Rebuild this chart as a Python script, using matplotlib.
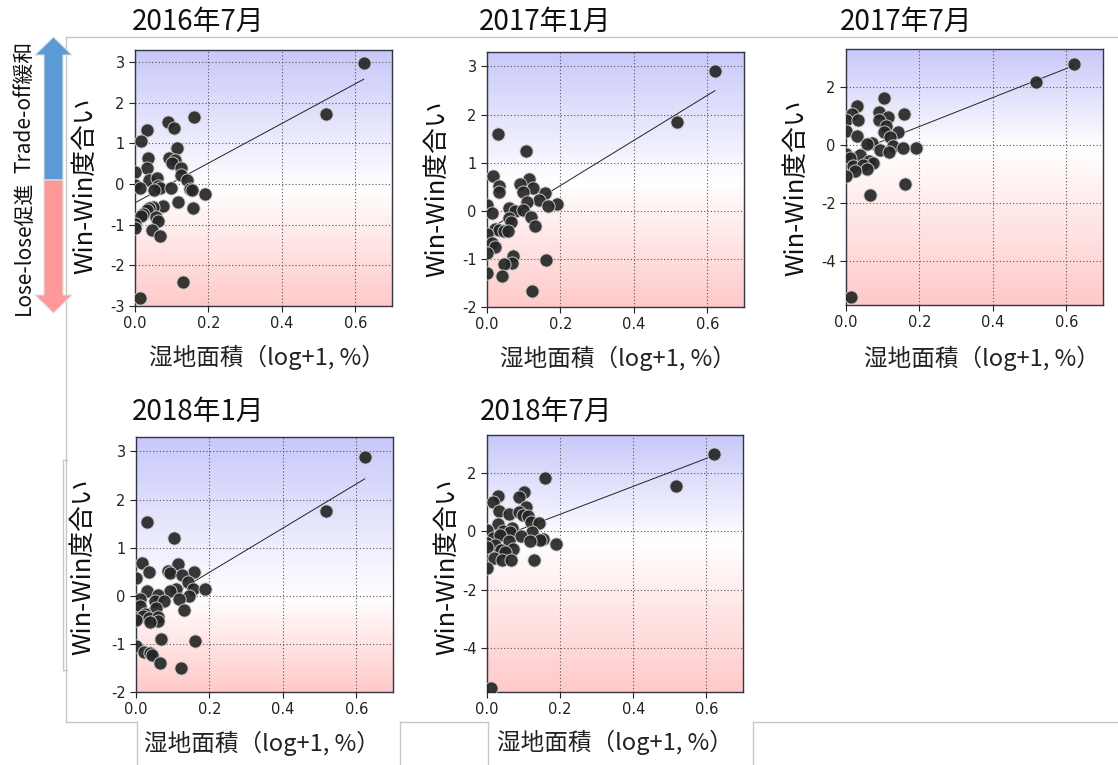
import matplotlib
matplotlib.use('Agg')
import matplotlib.pyplot as plt
import numpy as np
from matplotlib.colors import LinearSegmentedColormap
from matplotlib.patches import Polygon
from matplotlib.lines import Line2D

plt.rcParams['font.family'] = ['Noto Sans CJK JP', 'DejaVu Sans']
plt.rcParams['axes.unicode_minus'] = False

# ---------------- data ----------------
titles = ['2016年7月', '2017年1月', '2017年7月', '2018年1月', '2018年7月']
x_label = '湿地面積（log+1, %）'
y_label = 'Win-Win度合い'
arrow_top_label = 'Trade-off緩和'
arrow_bottom_label = 'Lose-lose促進'
x_ticks = [0.0, 0.2, 0.4, 0.6]

x_2016_07 = [0.162, 0.089, 0.106, 0.032, 0.017, 0.115, 0.035, 0.093, 0.108, 0.100, 0.033, 0.124, 0.0, 0.125,
             0.039, 0.060, 0.142, 0.0, 0.014, 0.064, 0.068, 0.053, 0.097, 0.151, 0.156, 0.191, 0.118, 0.158,
             0.075, 0.050, 0.037, 0.032, 0.021, 0.015, 0.057, 0.062, 0.0, 0.0, 0.046, 0.068, 0.131, 0.014,
             0.519, 0.623]
y_2016_07 = [1.66, 1.53, 1.38, 1.34, 1.07, 0.89, 0.65, 0.63, 0.60, 0.53, 0.39, 0.39, 0.29, 0.22,
             0.11, 0.14, 0.11, -0.02, -0.10, -0.04, -0.10, -0.14, -0.09, -0.12, -0.15, -0.24, -0.43, -0.60,
             -0.53, -0.56, -0.60, -0.63, -0.73, -0.78, -0.81, -0.92, -0.99, -1.09, -1.12, -1.28, -2.40, -2.81,
             1.72, 2.97]

x_2017_01 = [0.031, 0.105, 0.016, 0.114, 0.090, 0.034, 0.126, 0.032, 0.097, 0.157, 0.142, 0.190, 0.108, 0.0,
             0.166, 0.014, 0.061, 0.076, 0.097, 0.119, 0.060, 0.065, 0.130, 0.022, 0.034, 0.045, 0.056, 0.0,
             0.014, 0.022, 0.0, 0.070, 0.067, 0.045, 0.161, 0.0, 0.040, 0.123, 0.517, 0.621]
y_2017_01 = [1.60, 1.24, 0.72, 0.66, 0.55, 0.52, 0.47, 0.40, 0.40, 0.37, 0.23, 0.15, 0.18, 0.11,
             0.10, -0.04, 0.05, 0.0, 0.01, -0.13, -0.14, -0.24, -0.32, -0.37, -0.40, -0.43, -0.42, -0.48,
             -0.68, -0.75, -0.87, -0.93, -1.08, -1.11, -1.02, -1.30, -1.35, -1.66, 1.85, 2.91]

x_2017_07 = [0.103, 0.031, 0.016, 0.089, 0.157, 0.114, 0.0, 0.034, 0.090, 0.108, 0.0, 0.103, 0.141, 0.031,
             0.121, 0.070, 0.056, 0.128, 0.190, 0.154, 0.092, 0.117, 0.0, 0.038, 0.011, 0.062, 0.074, 0.020,
             0.047, 0.056, 0.024, 0.0, 0.161, 0.065, 0.013, 0.517, 0.620]
y_2017_07 = [1.60, 1.35, 1.05, 1.12, 1.05, 0.96, 0.85, 0.85, 0.85, 0.64, 0.48, 0.44, 0.46, 0.30,
             0.28, 0.07, 0.02, -0.02, -0.11, -0.11, -0.18, -0.25, -0.32, -0.36, -0.46, -0.54, -0.61, -0.71,
             -0.68, -0.84, -0.91, -1.05, -1.35, -1.71, -5.22, 2.15, 2.78]

x_2018_01 = [0.030, 0.104, 0.017, 0.115, 0.035, 0.088, 0.093, 0.158, 0.124, 0.0, 0.142, 0.154, 0.189, 0.109,
             0.093, 0.031, 0.059, 0.145, 0.010, 0.118, 0.051, 0.075, 0.012, 0.055, 0.131, 0.024, 0.0, 0.019,
             0.035, 0.059, 0.060, 0.037, 0.001, 0.069, 0.162, 0.0, 0.021, 0.039, 0.044, 0.066, 0.122,
             0.517, 0.623]
y_2018_01 = [1.53, 1.21, 0.69, 0.66, 0.49, 0.52, 0.47, 0.49, 0.43, 0.36, 0.29, 0.15, 0.14, 0.14,
             0.10, 0.10, 0.01, 0.0, -0.07, -0.06, -0.10, -0.11, -0.22, -0.25, -0.29, -0.37, -0.46, -0.42,
             -0.47, -0.44, -0.53, -0.54, -0.50, -0.90, -0.95, -1.05, -1.16, -1.19, -1.23, -1.40, -1.51,
             1.76, 2.88]

x_2018_07 = [0.159, 0.101, 0.029, 0.087, 0.016, 0.106, 0.033, 0.060, 0.088, 0.099, 0.112, 0.119, 0.141, 0.031,
             0.069, 0.0, 0.045, 0.063, 0.123, 0.016, 0.036, 0.092, 0.152, 0.144, 0.117, 0.0, 0.061, 0.022,
             0.190, 0.0, 0.072, 0.038, 0.050, 0.018, 0.041, 0.065, 0.128, 0.0, 0.011, 0.517, 0.620]
y_2018_07 = [1.82, 1.36, 1.22, 1.18, 1.02, 0.84, 0.70, 0.61, 0.65, 0.56, 0.51, 0.31, 0.29, 0.26,
             0.13, 0.03, 0.01, -0.03, -0.03, -0.22, -0.12, -0.17, -0.26, -0.31, -0.33, -0.40, -0.33, -0.47,
             -0.42, -0.53, -0.60, -0.65, -0.70, -0.92, -0.97, -0.97, -0.97, -1.27, -5.36, 1.57, 2.65]

# regression lines: (intercept, slope)
fit_intercepts = [-0.46, -0.41, -0.36, -0.43, -0.37]
fit_slopes = [4.88, 4.68, 4.98, 4.59, 4.78]

y_limits = [(-3.0, 3.3), (-2.0, 3.3), (-5.5, 3.3), (-2.0, 3.3), (-5.5, 3.3)]
y_ticks = [[-3, -2, -1, 0, 1, 2, 3], [-2, -1, 0, 1, 2, 3], [-4, -2, 0, 2],
           [-2, -1, 0, 1, 2, 3], [-4, -2, 0, 2]]

xs = [x_2016_07, x_2017_01, x_2017_07, x_2018_01, x_2018_07]
ys = [y_2016_07, y_2017_01, y_2017_07, y_2018_01, y_2018_07]

# ---------------- layout (pixels) ----------------
W, H = 1118, 765
fig = plt.figure(figsize=(W / 100, H / 100), dpi=100)
fig.patch.set_facecolor('white')

def fx(px):
    return px / W

def fy(py):
    return 1 - py / H

# axes boxes: left, top, right, bottom
boxes = [(135, 50, 392, 306), (487, 52, 744, 307), (846, 49, 1103, 305),
         (136, 437, 393, 692), (487, 435, 743, 692)]
title_pos = [(132, 22), (479, 22), (840, 22), (132, 412), (480, 412)]
ylabel_pos = [(85, 186), (437, 189), (796, 188), (83, 567), (447, 567)]
xlabel_pos = [(267, 357), (618, 358), (982, 358), (262, 743), (615, 742)]
white_level = [-0.1, 0.6, -0.1, 0.0, -0.3]

top_col = '#c8c8fa'
bot_col = '#ffc9c9'

# light grey slide frame lines
frame_col = '#c8c8c8'
frame_lines = [
    [(66, 37), (66, 722)],
    [(66, 37), (1118, 37)],
    [(66, 722), (137, 722)],
    [(137, 722), (137, 765)],
    [(400, 722), (488, 722)],
    [(400, 722), (400, 765)],
    [(488, 722), (488, 765)],
    [(753, 722), (1118, 722)],
    [(753, 722), (753, 765)],
    [(67, 460), (63, 460)],
    [(63, 460), (63, 670)],
    [(63, 670), (67, 670)],
]
for seg in frame_lines:
    (x0, y0), (x1, y1) = seg
    fig.add_artist(Line2D([fx(x0), fx(x1)], [fy(y0), fy(y1)], transform=fig.transFigure,
                          color=frame_col, lw=1.0, zorder=0))

for i in range(5):
    l, t, r, b = boxes[i]
    ax = fig.add_axes([fx(l), fy(b), (r - l) / W, (b - t) / H])
    ylo, yhi = y_limits[i]
    f = (white_level[i] - ylo) / (yhi - ylo)
    cmap = LinearSegmentedColormap.from_list('bg', [(0, bot_col), (f, 'white'), (1, top_col)])
    ax.imshow(np.linspace(0, 1, 256).reshape(-1, 1), cmap=cmap, aspect='auto', origin='lower',
              extent=[0, 1, 0, 1], transform=ax.transAxes, zorder=0, interpolation='bilinear')
    ax.set_xlim(0, 0.7)
    ax.set_ylim(ylo, yhi)
    ax.set_xticks(x_ticks)
    ax.set_xticklabels([f'{v:.1f}' for v in x_ticks], fontfamily='DejaVu Sans', fontsize=10.5)
    ax.set_yticks(y_ticks[i])
    ax.set_yticklabels([str(v) for v in y_ticks[i]], fontfamily='DejaVu Sans', fontsize=10.5)
    ax.grid(True, color='#555555', linestyle=(0, (1, 2)), lw=0.8, zorder=1)
    ax.set_axisbelow(True)
    ax.tick_params(direction='out', length=4, width=0.8, colors='#222222')
    for sp in ax.spines.values():
        sp.set_color('#333344')
        sp.set_linewidth(1.0)
    x = np.array(xs[i])
    y = np.array(ys[i])
    xx = np.array([x.min(), x.max()])
    ax.plot(xx, fit_intercepts[i] + fit_slopes[i] * xx, color='#222222', lw=0.7, zorder=3)
    ax.scatter(x, y, s=90, facecolor='#262626', edgecolor='#cfcfcf', linewidths=0.7,
               alpha=0.92, zorder=4)

    tx, ty = title_pos[i]
    fig.text(fx(tx), fy(ty), titles[i], ha='left', va='center', fontsize=20, color='#111111')
    lx, ly = ylabel_pos[i]
    fig.text(fx(lx), fy(ly), y_label, ha='center', va='center', rotation=90, fontsize=18.5,
             color='#111111')
    xl, yl = xlabel_pos[i]
    fig.text(fx(xl), fy(yl), x_label, ha='center', va='center', fontsize=17, color='#222222')

# double arrow on the left
def poly(pts, color):
    pp = [(fx(a), fy(b)) for a, b in pts]
    fig.add_artist(Polygon(pp, closed=True, transform=fig.transFigure, facecolor=color,
                           edgecolor='#e0e0e0', lw=0.8, zorder=2))

poly([(53.5, 37), (35, 55), (44, 55), (44, 180), (63, 180), (63, 55), (72, 55)], '#5b9bd5')
poly([(44, 180), (44, 295), (35, 295), (53.5, 313), (72, 295), (63, 295), (63, 180)], '#ff9999')

fig.text(fx(24), fy(107), arrow_top_label, rotation=90, ha='center', va='center', fontsize=15,
         color='#111111')
fig.text(fx(24), fy(248), arrow_bottom_label, rotation=90, ha='center', va='center', fontsize=15,
         color='#111111')

fig.savefig('out.png', dpi=100)
